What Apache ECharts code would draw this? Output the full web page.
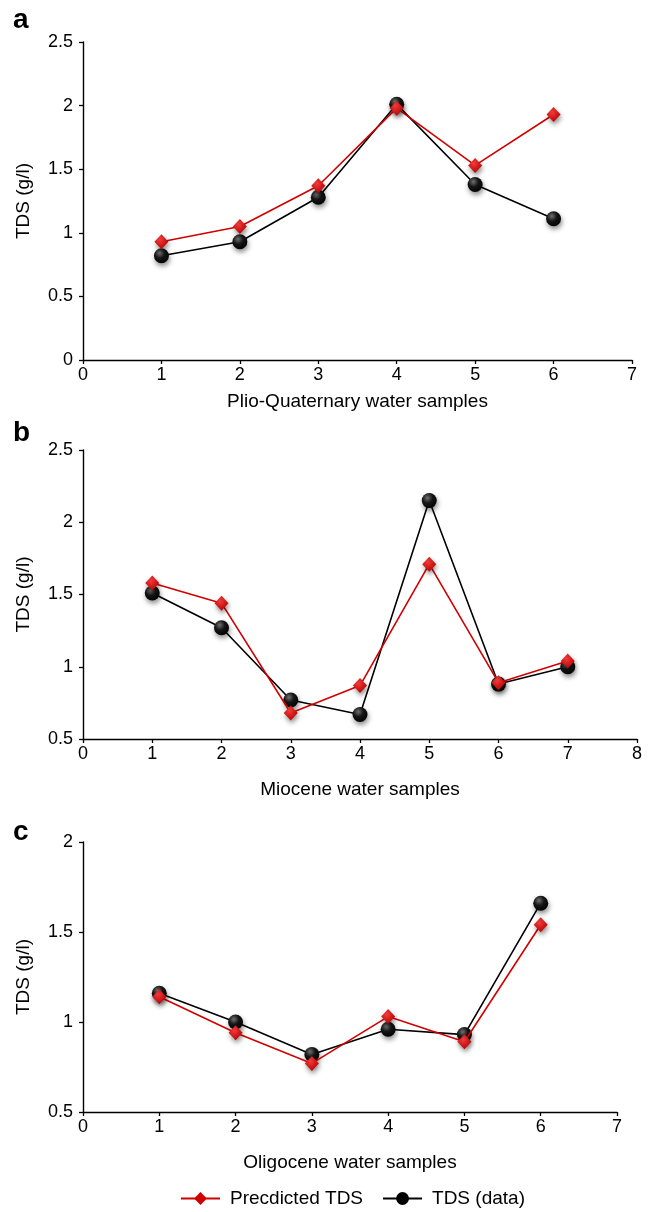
<!DOCTYPE html>
<html><head><meta charset="utf-8">
<script src="https://cdn.jsdelivr.net/npm/echarts@6/dist/echarts.min.js"></script>
<style>html,body{margin:0;padding:0;background:#fff}#c{width:656px;height:1212px}</style>
</head><body><div id="c"></div>
<script>
// ---- data ----
const samplesA = [1, 2, 3, 4, 5, 6];
const predA = [0.93, 1.05, 1.37, 1.98, 1.53, 1.93];
const dataA = [0.82, 0.93, 1.28, 2.01, 1.38, 1.11];

const samplesB = [1, 2, 3, 4, 5, 6, 7];
const predB = [1.58, 1.44, 0.68, 0.87, 1.71, 0.89, 1.04];
const dataB = [1.51, 1.27, 0.77, 0.67, 2.15, 0.88, 1.00];

const samplesC = [1, 2, 3, 4, 5, 6];
const predC = [1.14, 0.94, 0.77, 1.03, 0.89, 1.54];
const dataC = [1.16, 1.00, 0.82, 0.96, 0.93, 1.66];

const panelLetters = ['a', 'b', 'c'];
const xTitles = ['Plio-Quaternary water samples', 'Miocene water samples', 'Oligocene water samples'];
const yTitle = 'TDS (g/l)';
const seriesNames = ['Precdicted TDS', 'TDS (data)'];

// ---- layout ----
const FONT = "'Liberation Sans', Arial, Helvetica, sans-serif";
const grids = [
  {left: 83, top: 42, width: 549, height: 318},
  {left: 83, top: 450, width: 554, height: 289},
  {left: 83, top: 842, width: 534, height: 270}
];
const xMax = [7, 8, 7];
const yRange = [[0, 2.5], [0.5, 2.5], [0.5, 2]];
const xNameGap = [32, 41, 41];
const letterTop = [6, 419, 818];
const pairs = (xs, ys) => xs.map((x, i) => [x, ys[i]]);
const sets = [[samplesA, predA, dataA], [samplesB, predB, dataB], [samplesC, predC, dataC]];

const xAxes = [], yAxes = [], series = [];
const redGrad = {type: 'radial', x: 0.4, y: 0.35, r: 0.7, colorStops: [{offset: 0, color: '#f23a3a'}, {offset: 1, color: '#b40000'}]};
const blackGrad = {type: 'radial', x: 0.38, y: 0.32, r: 0.75, colorStops: [{offset: 0, color: '#707070'}, {offset: 0.45, color: '#151515'}, {offset: 1, color: '#000'}]};

grids.forEach((g, i) => {
  xAxes.push({
    type: 'value', gridIndex: i, min: 0, max: xMax[i], interval: 1,
    name: xTitles[i], nameLocation: 'middle', nameGap: xNameGap[i],
    nameTextStyle: {fontFamily: FONT, fontSize: 19, color: '#000'},
    axisLine: {lineStyle: {color: '#000', width: 1.4}},
    axisTick: {show: true, length: 4, lineStyle: {color: '#000', width: 1.3}},
    axisLabel: {fontFamily: FONT, fontSize: 18, color: '#000', margin: 6},
    splitLine: {show: false}
  });
  yAxes.push({
    type: 'value', gridIndex: i, min: yRange[i][0], max: yRange[i][1], interval: 0.5,
    name: yTitle, nameLocation: 'middle', nameGap: 50,
    nameTextStyle: {fontFamily: FONT, fontSize: 19, color: '#000'},
    axisLine: {show: true, lineStyle: {color: '#000', width: 1.4}},
    axisTick: {show: true, length: 4, lineStyle: {color: '#000', width: 1.3}},
    axisLabel: {fontFamily: FONT, fontSize: 18, color: '#000', margin: 10},
    splitLine: {show: false}
  });
  const [xs, p, d] = sets[i];
  series.push({
    name: seriesNames[0], type: 'line', xAxisIndex: i, yAxisIndex: i, data: pairs(xs, p),
    symbol: 'diamond', symbolSize: [14, 15], z: 3,
    lineStyle: {color: '#d10000', width: 1.6},
    itemStyle: {color: redGrad, shadowColor: 'rgba(0,0,0,0.45)', shadowBlur: 5, shadowOffsetX: 1, shadowOffsetY: 3}
  });
  series.push({
    name: seriesNames[1], type: 'line', xAxisIndex: i, yAxisIndex: i, data: pairs(xs, d),
    symbol: 'circle', symbolSize: 15, z: 2,
    lineStyle: {color: '#000', width: 1.6},
    itemStyle: {color: blackGrad, shadowColor: 'rgba(0,0,0,0.45)', shadowBlur: 5, shadowOffsetX: 1, shadowOffsetY: 3}
  });
});

const titles = panelLetters.map((t, i) => ({
  text: t, left: 13, top: letterTop[i], padding: 0,
  textStyle: {fontFamily: FONT, fontSize: 28, fontWeight: 'bold', color: '#000'}
}));

const chart = echarts.init(document.getElementById('c'), null, {renderer: 'canvas'});
chart.setOption({
  animation: false,
  backgroundColor: '#fff',
  title: titles,
  grid: grids,
  xAxis: xAxes,
  yAxis: yAxes,
  legend: {
    left: 180, top: 1189, itemWidth: 39, itemHeight: 16, itemGap: 19, padding: 0,
    data: [{name: seriesNames[0], itemStyle: {color: '#d10000'}}, {name: seriesNames[1], itemStyle: {color: '#000'}}],
    textStyle: {fontFamily: FONT, fontSize: 19, color: '#000', padding: [0, 0, 0, 5]}
  },
  series: series
});
</script></body></html>
